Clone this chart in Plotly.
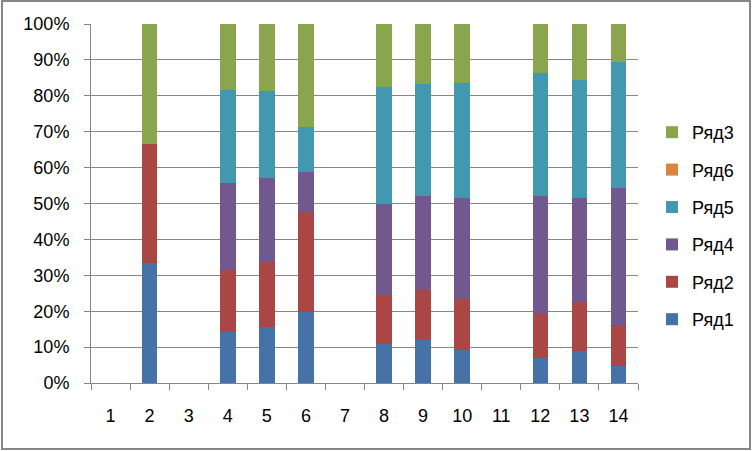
import plotly.graph_objects as go

categories = [str(i) for i in range(1, 15)]

# percentage shares (None = empty category)
ryad1 = [None, 33.3, None, 14.3, 15.6, 19.8, None, 10.9, 12.1, 9.3, None, 7.1, 8.9, 4.8]
ryad2 = [None, 33.3, None, 17.3, 18.2, 27.9, None, 13.6, 13.9, 14.1, None, 12.2, 13.7, 11.4]
ryad4 = [None, 0, None, 24.1, 23.4, 11.1, None, 25.4, 26.2, 28.2, None, 32.9, 29.0, 38.2]
ryad5 = [None, 0, None, 25.9, 24.1, 12.5, None, 32.6, 31.2, 32.0, None, 34.2, 32.9, 35.1]
ryad6 = [None, 0, None, 0, 0, 0, None, 0, 0, 0, None, 0, 0, 0]
ryad3 = [None, 33.4, None, 18.4, 18.7, 28.7, None, 17.5, 16.6, 16.4, None, 13.6, 15.5, 10.5]

y_ticks = [0, 10, 20, 30, 40, 50, 60, 70, 80, 90, 100]
y_tick_labels = [f"{v}%" for v in y_ticks]

# stacking order bottom -> top
series = [
    ("Ряд1", ryad1, "#4572A7"),
    ("Ряд2", ryad2, "#AA4643"),
    ("Ряд4", ryad4, "#71588F"),
    ("Ряд5", ryad5, "#4198AF"),
    ("Ряд6", ryad6, "#DB843D"),
    ("Ряд3", ryad3, "#89A54E"),
]

fig = go.Figure()
n = len(series)
for i, (name, vals, color) in enumerate(series):
    fig.add_trace(go.Bar(
        x=categories, y=vals, name=name, legendgroup=name,
        legendrank=n - i,
        marker=dict(color=color, line=dict(width=0)),
    ))

L, R, T, B = 91, 115, 24, 68
W, H = 753, 451
pw, ph = W - L - R, H - T - B

def px_x(px):
    return (px - L) / pw

def px_y(py):
    return (H - B - py) / ph

grid_col = "#868686"
font_family = "Liberation Sans, Arial, sans-serif"

fig.update_layout(
    width=W, height=H,
    margin=dict(l=L, r=R, t=T, b=B, autoexpand=False),
    barmode="stack", barnorm="percent", bargap=0.6,
    plot_bgcolor="white", paper_bgcolor="white",
    font=dict(family=font_family, size=18, color="#000000"),
    showlegend=True,
    legend=dict(
        traceorder="grouped", tracegroupgap=11,
        x=px_x(652), xanchor="left", y=px_y(226), yanchor="middle",
        font=dict(size=18), bgcolor="rgba(0,0,0,0)",
    ),
    xaxis=dict(
        type="category", showgrid=False, showline=True, linecolor=grid_col, linewidth=1,
        ticks="outside", tickson="boundaries", ticklen=6, tickcolor=grid_col,
        ticklabelstandoff=16, zeroline=False,
    ),
    yaxis=dict(
        range=[0, 100], tickvals=y_ticks, ticktext=y_tick_labels,
        showgrid=True, gridcolor=grid_col, gridwidth=1,
        showline=True, linecolor=grid_col, linewidth=1,
        ticks="outside", ticklen=6, tickcolor=grid_col,
        ticklabelstandoff=11, zeroline=False,
    ),
    shapes=[dict(
        type="rect", xref="paper", yref="paper",
        x0=px_x(2), x1=px_x(750), y0=px_y(449), y1=px_y(1),
        line=dict(color=grid_col, width=2), fillcolor="rgba(0,0,0,0)", layer="below",
    )],
)

fig.write_html(
    "out.html",
    config={"displayModeBar": False},
    post_script="document.body.style.margin='0';document.body.style.overflow='hidden';",
)
